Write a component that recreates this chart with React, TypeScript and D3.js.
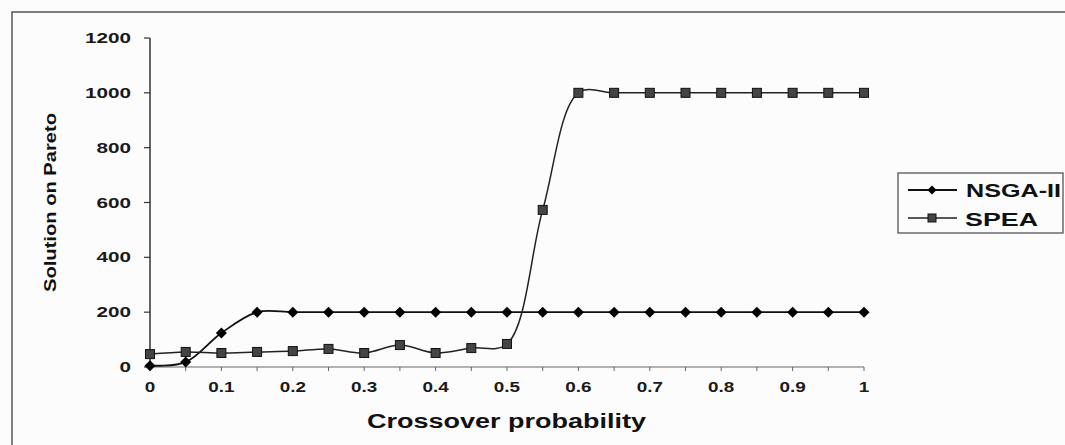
import React from "react";
import * as d3 from "d3";

const crossover = [0, 0.05, 0.1, 0.15, 0.2, 0.25, 0.3, 0.35, 0.4, 0.45, 0.5, 0.55, 0.6, 0.65, 0.7, 0.75, 0.8, 0.85, 0.9, 0.95, 1];
const nsga = [5, 18, 124, 200, 200, 200, 200, 200, 200, 200, 200, 200, 200, 200, 200, 200, 200, 200, 200, 200, 200];
const spea = [47, 55, 51, 55, 58, 66, 51, 80, 51, 69, 84, 573, 1000, 1000, 1000, 1000, 1000, 1000, 1000, 1000, 1000];
const yTicks = [0, 200, 400, 600, 800, 1000, 1200];
const xTickLabels = ["0", "0.1", "0.2", "0.3", "0.4", "0.5", "0.6", "0.7", "0.8", "0.9", "1"];
const xTickValues = [0, 0.1, 0.2, 0.3, 0.4, 0.5, 0.6, 0.7, 0.8, 0.9, 1];
const seriesNames = ["NSGA-II", "SPEA"];

const FONT = "'Liberation Sans', Arial, sans-serif";

export default function App() {
  const x = d3.scaleLinear().domain([0, 1]).range([150, 864]);
  const y = d3.scaleLinear().domain([0, 1200]).range([367, 38]);

  const line = d3
    .line<number>()
    .x((_, i) => x(crossover[i]))
    .y((d) => y(d))
    .curve(d3.curveCatmullRom.alpha(0.5));

  const diamond = (cx: number, cy: number, r = 5.5) =>
    `M${cx},${cy - r}L${cx + r},${cy}L${cx},${cy + r}L${cx - r},${cy}Z`;

  return (
    <svg
      width={1065}
      height={445}
      style={{ position: "absolute", left: 0, top: 0, background: "#fff" }}
    >
      <rect x={0} y={0} width={1065} height={445} fill="#fcfcfc" />
      {/* outer border */}
      <rect x={12} y={12} width={1070} height={450} fill="none" stroke="#555" strokeWidth={1.5} />

      {/* y axis */}
      <line x1={150} x2={150} y1={y(1200)} y2={y(0)} stroke="#333" strokeWidth={1.5} />
      {yTicks.map((t) => (
        <g key={t}>
          <line x1={144} x2={150} y1={y(t)} y2={y(t)} stroke="#333" strokeWidth={1.2} />
          <text
            x={131}
            y={y(t) + 5}
            textAnchor="end"
            fontFamily={FONT}
            fontWeight="bold"
            fontSize={14.5}
            textLength={11.5 * String(t).length}
            lengthAdjust="spacingAndGlyphs"
            fill="#1a1a1a"
          >
            {String(t)}
          </text>
        </g>
      ))}

      {/* x axis */}
      <line x1={x(0)} x2={x(1)} y1={y(0)} y2={y(0)} stroke="#666" strokeWidth={1.2} />
      {crossover.map((c) => (
        <line key={c} x1={x(c)} x2={x(c)} y1={y(0)} y2={y(0) + 4} stroke="#666" strokeWidth={1} />
      ))}
      {xTickValues.map((v, i) => (
        <text
          key={v}
          transform={`translate(${x(v)},392) scale(1.35,1)`}
          textAnchor="middle"
          fontFamily={FONT}
          fontWeight="bold"
          fontSize={14}
          fill="#1a1a1a"
        >
          {xTickLabels[i]}
        </text>
      ))}

      {/* axis titles */}
      <text
        x={367}
        y={428}
        fontFamily={FONT}
        fontWeight="bold"
        fontSize={20}
        textLength={279}
        lengthAdjust="spacingAndGlyphs"
        fill="#111"
      >
        Crossover probability
      </text>
      <text
        transform={`translate(56,292) rotate(-90)`}
        fontFamily={FONT}
        fontWeight="bold"
        fontSize={17}
        textLength={179}
        lengthAdjust="spacingAndGlyphs"
        fill="#111"
      >
        Solution on Pareto
      </text>

      {/* series lines */}
      <path d={line(nsga) || ""} fill="none" stroke="#111" strokeWidth={1.8} />
      <path d={line(spea) || ""} fill="none" stroke="#222" strokeWidth={1.5} />

      {/* markers */}
      {nsga.map((v, i) => (
        <path key={"n" + i} d={diamond(x(crossover[i]), y(v))} fill="#000" />
      ))}
      {spea.map((v, i) => (
        <rect
          key={"s" + i}
          x={x(crossover[i]) - 4.5}
          y={y(v) - 4.5}
          width={9}
          height={9}
          fill="#444"
          stroke="#111"
          strokeWidth={1}
        />
      ))}

      {/* legend */}
      <rect x={898} y={173} width={165} height={60} fill="none" stroke="#555" strokeWidth={1.3} />
      <line x1={908} x2={957} y1={190} y2={190} stroke="#111" strokeWidth={1.8} />
      <path d={diamond(932, 190, 4.5)} fill="#000" />
      <line x1={908} x2={957} y1={218} y2={218} stroke="#222" strokeWidth={1.5} />
      <rect x={928} y={214} width={8} height={8} fill="#444" stroke="#111" strokeWidth={1} />
      <text
        x={966}
        y={197}
        fontFamily={FONT}
        fontWeight="bold"
        fontSize={19}
        textLength={95}
        lengthAdjust="spacingAndGlyphs"
        fill="#111"
      >
        {seriesNames[0]}
      </text>
      <text
        x={965}
        y={226}
        fontFamily={FONT}
        fontWeight="bold"
        fontSize={19}
        textLength={73}
        lengthAdjust="spacingAndGlyphs"
        fill="#111"
      >
        {seriesNames[1]}
      </text>
    </svg>
  );
}
